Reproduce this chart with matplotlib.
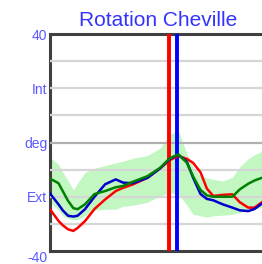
import numpy as np
import matplotlib
matplotlib.use("Agg")
from matplotlib import pyplot as plt

cycle = [0, 4, 6, 8.5, 11, 13, 16.5, 21, 26, 31, 34.5, 39, 46, 52, 56.5, 60.5,
         64.5, 67.5, 71, 74, 77, 81.5, 86, 89.5, 93.5, 96.5, 100]

left = [-24.6, -28.9, -30.5, -32, -32.6, -31.5, -29, -24.5, -21, -17.9, -16.7, -15.5, -13, -9.5,
        -6.5, -5, -6, -7.5, -11, -17, -19.7, -19.3, -19.1, -22, -24, -24, -22]
right = [-18.8, -22.8, -25, -27, -27.3, -27, -24.6, -20, -15.4, -13.6, -14.8, -15, -13, -9.5,
         -6, -4.5, -7, -13, -19, -20.8, -21.3, -22.8, -24, -25, -25.3, -24.5, -22.5]
norm = [-13.3, -15, -17.9, -21.5, -24.2, -24.6, -22.8, -19, -17.9, -16.5, -16, -14.5, -12.4, -9.3,
        -5.8, -4.4, -7.4, -12.5, -17.5, -19.5, -20, -20, -20, -17.3, -15.2, -14, -13]
norm_hi = [-5.5, -8, -11, -14, -17.5, -15, -11, -9.5, -8.5, -7.5, -6.9, -5.8, -4.8, -2,
           3, 4.5, -4, -9, -12.4, -13, -13.6, -14.2, -12.8, -9, -6, -4.5, -3.2]
norm_lo = [-22, -25, -27, -28, -28.5, -28.5, -27, -25, -24.6, -24.6, -23.5, -23.2, -22, -19.7,
           -18.5, -19, -23, -26.5, -27, -27.5, -27, -26.8, -26.5, -25.8, -25, -24.5, -24]

toe_off_left = 56.3
toe_off_right = 59.9

tick_vals = [40, 20, 0, -20, -40]
tick_text = ["40", "Int", "deg", "Ext", "-40"]

fig = plt.figure(figsize=(2.62, 2.64), dpi=100)
ax = fig.add_axes([50 / 262, 1 - 251 / 264, 212 / 262, 217 / 264])

for v in range(-30, 40, 10):
    if v == 0:
        ax.axhline(v, color="#b0b0b0", lw=1.6, zorder=3)
    else:
        ax.axhline(v, color="#d6d6d6", lw=1.6, zorder=3)

ax.fill_between(cycle, norm_lo, norm_hi, color="#c2f7c2", lw=0, zorder=2)
ax.axvline(toe_off_left, color="#ff0000", lw=2.8, zorder=4)
ax.axvline(toe_off_right, color="#0000ff", lw=2.8, zorder=4)
ax.plot(cycle, left, color="#ff0000", lw=1.8, zorder=5)
ax.plot(cycle, right, color="#0000cc", lw=1.8, zorder=6)
ax.plot(cycle, norm, color="#008000", lw=1.8, zorder=7)

ax.set_xlim(0, 100)
ax.set_ylim(-40, 40)
ax.set_xticks([])
ax.set_yticks(tick_vals)
ax.set_yticklabels(tick_text, color="#5a5aff", fontsize=10, family="Liberation Sans")
ax.tick_params(axis="y", length=0, pad=2)
ax.get_yticklabels()[-1].set_verticalalignment("top")
for s in ("left", "bottom", "top"):
    ax.spines[s].set_color("#404040")
    ax.spines[s].set_linewidth(2.2)
ax.spines["right"].set_visible(False)

fig.text(158 / 262, 1 - 26 / 264, "Rotation Cheville", color="#3333ff",
         fontsize=15, family="Liberation Sans", ha="center", va="baseline")

fig.savefig("out.png", dpi=100)
